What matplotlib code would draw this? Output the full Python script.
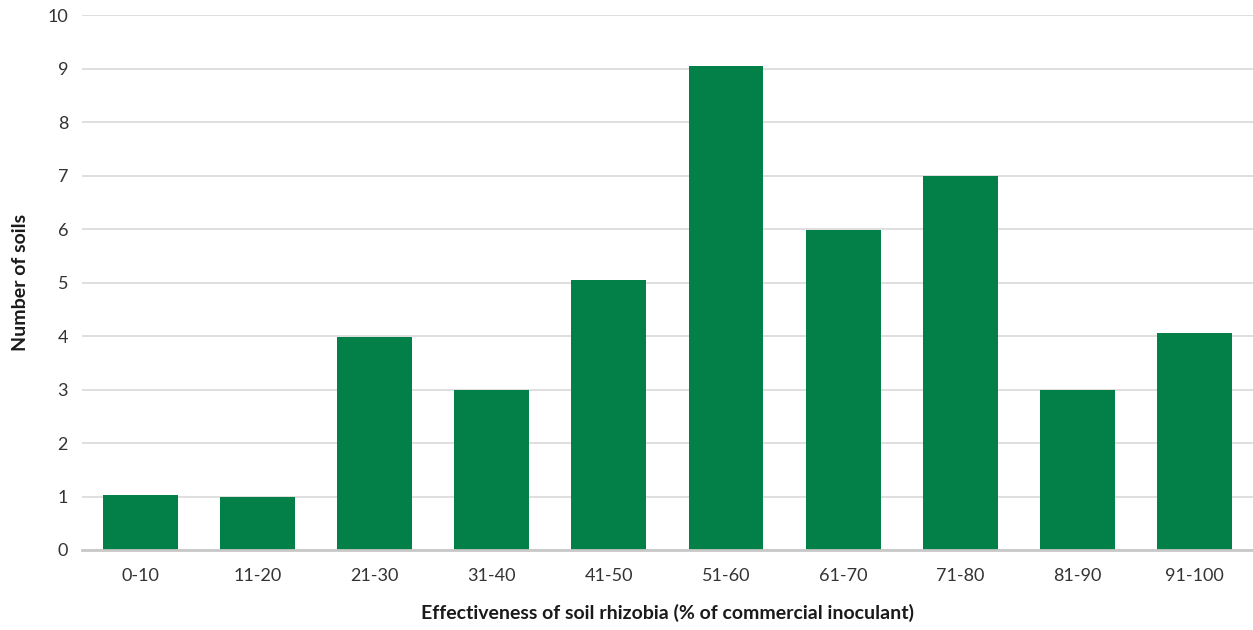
import matplotlib
matplotlib.use('Agg')
import matplotlib.pyplot as plt
import numpy as np

# Number of soils per effectiveness class
categories = ['0-10', '11-20', '21-30', '31-40', '41-50',
              '51-60', '61-70', '71-80', '81-90', '91-100']
soils = [1.03, 0.99, 3.98, 3.0, 5.04, 9.04, 5.98, 7.0, 3.0, 4.05]
yticks = [0, 1, 2, 3, 4, 5, 6, 7, 8, 9, 10]

plt.rcParams['font.family'] = ['Lato', 'DejaVu Sans']

fig = plt.figure(figsize=(12.53, 6.3), dpi=100)
ax = fig.add_axes([0.0654, 0.127, 0.9346, 0.849])

x = np.arange(len(categories))
ax.bar(x, soils, width=0.64, color='#037f48', zorder=3)

ax.set_xlim(-0.5, len(categories) - 0.5)
ax.set_ylim(0, 10)
ax.set_yticks(yticks)
ax.set_xticks(x)
ax.set_xticklabels(categories)

ax.grid(True, axis='y', color='#d9d9d9', linewidth=1.2, zorder=0)
for side in ['top', 'right', 'left']:
    ax.spines[side].set_visible(False)
ax.spines['bottom'].set_color('#c8c8c8')
ax.spines['bottom'].set_linewidth(2)
ax.spines['bottom'].set_zorder(4)

ax.tick_params(axis='both', length=0, labelsize=13, labelcolor='#333333')
ax.tick_params(axis='x', pad=13)
ax.tick_params(axis='y', pad=10)

ax.set_xlabel('Effectiveness of soil rhizobia (% of commercial inoculant)',
              fontsize=14, fontweight='bold', color='#1a1a1a', labelpad=14)
ax.set_ylabel('Number of soils', fontsize=14, fontweight='bold',
              color='#1a1a1a', labelpad=13)

fig.savefig('out.png', dpi=100)
